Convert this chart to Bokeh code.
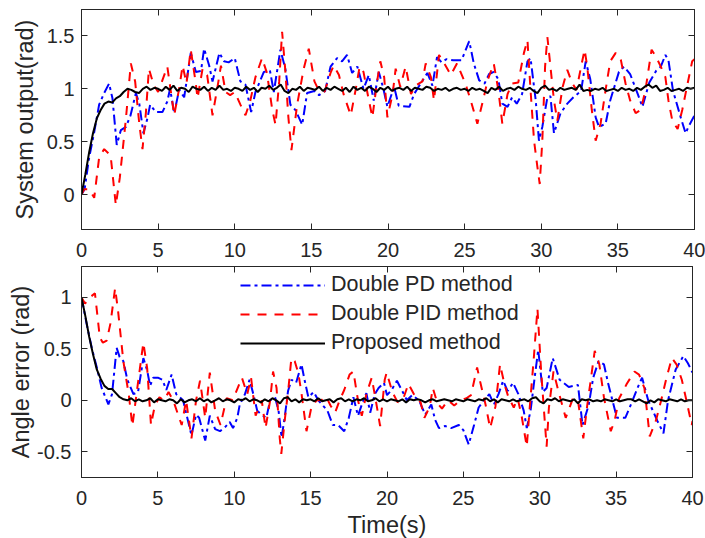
import numpy as np
from bokeh.plotting import figure
from bokeh.layouts import column
from bokeh.models import (LinearAxis, FixedTicker, Range1d, Legend, LegendItem, CustomLabelingPolicy)
from bokeh.embed import file_html
from bokeh.resources import INLINE

# ---------------- data ----------------
x_ticks = [0, 5, 10, 15, 20, 25, 30, 35, 40]
y_ticks_top = [0, 0.5, 1, 1.5]
y_ticks_bot = [-0.5, 0, 0.5, 1]

series_names = ["Double PD method", "Double PID method", "Proposed method"]

# System output - Double PD (blue)
pd_out_t = [0, 0.2, 0.5, 0.83, 1.15, 1.48, 1.8, 2.02, 2.3, 2.57, 2.9, 3.2, 3.55, 3.77, 4.04, 4.3,
            4.48, 4.85, 5.28, 5.6, 5.78, 6.05, 6.37, 6.7, 7.13, 7.46, 7.8, 8.0, 8.33, 8.55, 9.0,
            9.3, 9.6, 10.0, 10.37, 10.7, 11.07, 11.35, 11.9, 12.3, 12.55, 12.98, 13.3, 13.63,
            13.96, 14.4, 14.72, 15.2, 15.5, 15.9, 16.25, 16.68, 17.0, 17.33, 17.66, 18.0, 18.4,
            18.75, 19.07, 19.4, 19.7, 19.96, 20.4, 20.7, 21.4, 21.7, 22.0, 22.57, 22.9, 23.2,
            23.5, 23.8, 24.25, 24.8, 25.3, 25.6, 25.95, 26.3, 26.6, 26.9, 27.2, 27.46, 27.8,
            28.1, 28.4, 28.75, 29.1, 29.3, 29.64, 29.85, 30.07, 30.4, 30.6, 30.83, 31.26, 31.7,
            32.1, 32.6, 32.9, 33.2, 33.55, 33.77, 34.2, 34.5, 35.07, 35.4, 35.8, 36.3, 36.6,
            37.05, 37.5, 37.8, 38.1, 38.3, 38.6, 39.1, 39.42, 39.6, 40.0]
pd_out_y = [0, 0.05, 0.35, 0.59, 0.85, 0.96, 1.05, 0.91, 0.47, 0.61, 0.64, 0.75, 0.96, 0.86, 0.58, 0.72,
            0.85, 0.78, 0.78, 0.88, 1.0, 0.77, 0.99, 0.92, 1.34, 1.16, 1.17, 1.38, 1.22, 1.07, 1.34,
            1.26, 1.25, 1.29, 1.07, 1.04, 0.78, 0.97, 1.16, 1.17, 0.97, 1.37, 1.19, 0.85,
            0.80, 0.66, 0.96, 0.98, 0.94, 0.98, 1.21, 1.29, 1.26, 1.32, 1.15, 1.21, 1.0,
            1.13, 0.89, 1.16, 1.0, 0.83, 1.02, 0.84, 0.83, 0.95, 1.02, 1.15, 1.03, 1.30,
            1.25, 1.28, 1.27, 1.27, 1.45, 1.24, 1.08, 1.05, 1.14, 1.16, 1.09, 0.86, 0.83,
            0.92, 0.86, 0.95, 1.26, 1.29, 0.89, 0.51, 0.64, 0.92, 0.93, 0.58, 0.77, 0.86,
            0.92, 0.98, 1.26, 1.09, 0.73, 0.64, 0.67, 0.89, 1.16, 1.21, 1.14, 0.95, 0.83,
            1.06, 1.17, 1.21, 1.32, 1.27, 0.98, 0.73, 0.58, 0.64, 0.75]

# System output - Double PID (red)
pid_out_t = [0, 0.17, 0.5, 0.83, 1.15, 1.48, 1.9, 2.24, 2.5, 2.9, 3.22, 3.5, 3.77, 3.98, 4.2, 4.4,
             4.7, 5.0, 5.6, 6.05, 6.37, 6.6, 6.85, 7.13, 7.46, 7.57, 7.9, 8.2, 8.55, 8.9, 9.1,
             9.4, 9.7, 10.0, 10.37, 10.7, 11.0, 11.35, 11.78, 12.1, 12.44, 12.66, 12.9, 13.09,
             13.3, 13.5, 13.7, 14.07, 14.5, 14.83, 15.2, 15.4, 15.85, 16.25, 16.46, 16.8, 17.1,
             17.57, 17.9, 18.15, 18.4, 18.7, 18.98, 19.3, 19.5, 19.75, 19.96, 20.3, 20.5, 20.8,
             21.15, 21.5, 21.8, 22.25, 22.46, 22.8, 23.0, 23.33, 23.6, 24.1, 24.5, 25.05, 25.4,
             25.83, 26.2, 26.5, 26.9, 27.2, 27.46, 27.8, 28.1, 28.5, 28.87, 29.1, 29.3, 29.53,
             29.75, 29.9, 30.07, 30.25, 30.4, 30.6, 30.83, 31.05, 31.4, 31.7, 32.0, 32.3, 32.6,
             32.83, 33.0, 33.3, 33.55, 33.87, 34.2, 34.5, 34.86, 35.2, 35.5, 35.8, 36.16, 36.5,
             36.8, 37.2, 37.5, 37.8, 38.1, 38.3, 38.55, 38.9, 39.2, 39.55, 39.85, 40.0]
pid_out_y = [0, 0.05, 0.05, -0.03, 0.35, 0.43, 0.37, -0.1, 0.16, 0.72, 1.24, 1.07, 0.67, 0.43, 0.77, 1.19,
             1.04, 0.97, 1.21, 0.75, 1.0, 1.22, 1.05, 1.37, 1.05, 0.91, 1.19, 1.13, 0.75, 1.04, 1.22,
             0.97, 0.94, 0.97, 0.85, 0.75, 0.88, 1.11, 1.29, 1.15, 0.81, 0.66, 1.07, 1.54,
             1.17, 0.73, 0.42, 0.85, 1.19, 1.38, 1.07, 1.01, 0.97, 1.15, 1.22, 1.13, 0.95,
             0.75, 1.0, 1.21, 1.16, 0.93, 0.73, 1.08, 1.26, 1.11, 0.73, 0.95, 1.19, 1.02,
             1.21, 0.95, 1.03, 1.07, 1.24, 1.11, 0.89, 1.32, 1.26, 1.13, 1.24, 1.05, 0.89,
             0.67, 0.89, 1.08, 1.24, 0.99, 0.67, 0.95, 1.05, 1.06, 1.34, 1.46, 0.99, 0.51,
             0.26, 0.10, 0.51, 1.21, 1.49, 1.21, 0.89, 0.70, 1.02, 1.18, 1.06, 0.99, 1.21,
             1.37, 1.21, 0.80, 0.51, 0.67, 0.99, 1.26, 1.34, 1.27, 1.05, 0.89, 0.77, 0.80,
             0.99, 1.37, 1.30, 1.21, 1.11, 0.89, 0.70, 0.62, 0.80, 1.05, 1.26, 1.28]

# Proposed method (black), sampled every 0.25 s
prop_t = list(np.arange(0, 40.001, 0.25))
prop_out_y = [0.00, 0.19, 0.40, 0.58, 0.72, 0.80, 0.86, 0.88,
              0.87, 0.91, 0.93, 0.97, 1.00, 0.99, 0.97, 0.96,
              1.00, 1.02, 0.99, 1.01, 1.00, 0.98, 1.02, 0.99,
              1.03, 0.98, 1.01, 1.00, 0.97, 1.02, 1.00, 0.99,
              1.02, 0.98, 1.01, 0.99, 1.03, 0.99, 1.00, 0.98,
              1.01, 1.00, 0.98, 1.02, 0.99, 1.01, 0.97, 1.01,
              1.00, 1.03, 0.99, 1.01, 1.04, 0.98, 0.96, 1.00,
              0.99, 1.02, 0.98, 1.01, 1.00, 0.99, 1.02, 0.98,
              1.01, 0.99, 1.02, 1.00, 0.98, 1.01, 0.97, 1.02,
              0.99, 1.01, 0.98, 1.02, 1.00, 0.97, 1.01, 0.99,
              1.02, 0.98, 1.00, 1.01, 0.99, 1.02, 0.98, 1.01,
              1.00, 0.99, 1.02, 1.01, 0.98, 1.00, 0.99, 1.01,
              0.98, 1.00, 1.01, 0.99, 1.00, 0.98, 1.01, 0.99,
              1.00, 0.98, 0.96, 1.01, 0.99, 1.02, 0.98, 1.00,
              1.01, 0.99, 1.02, 1.00, 0.99, 1.01, 0.98, 0.96,
              1.01, 1.03, 0.99, 1.00, 0.98, 1.01, 0.99, 1.00,
              1.01, 0.99, 1.04, 0.98, 0.99, 0.98, 1.00, 0.99,
              1.01, 0.98, 0.99, 1.00, 0.98, 1.01, 0.99, 1.00,
              0.98, 1.01, 0.99, 1.02, 1.04, 1.01, 1.03, 0.98,
              0.99, 1.01, 0.98, 0.99, 1.00, 0.98, 1.01, 1.00,
              1.01]
prop_err_y = [1.00, 0.82, 0.62, 0.45, 0.30, 0.21, 0.14, 0.11,
              0.11, 0.07, 0.03, 0.01, 0.00, 0.02, -0.01, 0.01,
              -0.01, 0.00, 0.02, -0.02, 0.01, 0.00, -0.01, 0.01,
              0.00, -0.03, 0.01, -0.02, 0.00, 0.01, -0.01, 0.02,
              -0.01, 0.01, -0.02, 0.00, 0.02, -0.01, 0.01, 0.00,
              -0.02, 0.01, 0.00, 0.02, -0.01, 0.01, 0.00, -0.02,
              0.01, -0.01, 0.02, 0.00, -0.03, 0.02, 0.03, -0.01,
              0.01, -0.02, 0.01, 0.00, 0.01, -0.01, 0.02, -0.01,
              0.00, 0.01, -0.02, 0.01, 0.02, -0.01, 0.01, -0.01,
              0.01, 0.00, 0.02, -0.01, 0.00, 0.02, -0.01, 0.01,
              -0.01, 0.01, 0.00, -0.01, 0.01, -0.02, 0.01, 0.00,
              0.01, 0.00, -0.02, 0.00, 0.01, -0.01, 0.00, 0.01,
              0.00, -0.01, 0.01, 0.00, -0.01, 0.01, 0.00, -0.01,
              0.01, 0.00, 0.02, -0.01, 0.01, -0.02, 0.01, 0.00,
              -0.01, 0.01, -0.01, 0.00, 0.01, -0.01, 0.02, 0.03,
              -0.01, -0.03, 0.01, 0.00, 0.02, -0.01, 0.01, 0.00,
              -0.01, 0.01, -0.03, 0.01, 0.00, 0.01, -0.01, 0.00,
              -0.01, 0.01, 0.00, -0.01, 0.01, -0.01, 0.00, 0.01,
              0.01, -0.01, 0.01, -0.01, -0.03, 0.00, -0.02, 0.01,
              0.00, -0.01, 0.01, 0.00, -0.01, 0.01, -0.01, 0.00,
              0.00]

# Angle error - Double PD (blue)
pd_err_t = [0, 0.34, 0.67, 1.0, 1.32, 1.76, 2.0, 2.3, 2.5, 2.74, 3.0, 3.4, 3.7, 4.05, 4.3, 4.49,
            4.7, 5.0, 5.3, 5.55, 5.9, 6.2, 6.65, 7.2, 7.5, 7.7, 8.1, 8.4, 8.75, 9.07, 9.4, 9.7,
            9.92, 10.2, 10.36, 10.7, 11.0, 11.25, 11.5, 11.78, 12.1, 12.35, 12.67, 12.9, 13.1,
            13.3, 13.52, 13.75, 14.05, 14.4, 14.6, 14.85, 15.2, 15.5, 16.1, 16.45, 16.8, 17.2,
            17.5, 17.8, 18.1, 18.45, 18.65, 18.9, 19.2, 19.45, 19.8, 20.0, 20.3, 20.65, 21.0,
            21.3, 21.65, 22.1, 22.5, 22.9, 23.15, 23.4, 23.8, 24.2, 24.7, 25.0, 25.35, 25.7,
            26.0, 26.35, 26.7, 27.0, 27.3, 27.6, 27.9, 28.25, 28.6, 28.95, 29.15, 29.4, 29.7,
            29.9, 30.2, 30.45, 30.85, 31.3, 31.9, 32.5, 32.8, 33.2, 33.5, 33.85, 34.2, 34.5,
            35.05, 35.6, 36.0, 36.4, 36.7, 37.1, 37.7, 38.1, 38.4, 38.9, 39.4, 39.7, 40.0]
pd_err_y = [1.0, 0.74, 0.51, 0.32, 0.12, -0.04, 0.06, 0.51, 0.42, 0.38, 0.2, 0.06, 0.08, 0.41, 0.29, 0.14,
            0.22, 0.22, 0.2, 0.1, 0.25, 0.06, 0.0, -0.34, -0.14, -0.17, -0.39, -0.15, -0.28, -0.3, -0.26, -0.21,
            -0.27, -0.17, -0.04, 0.06, 0.2, 0.06, -0.1, -0.14, -0.17, 0.0, 0.03, -0.1, -0.36,
            -0.17, 0.09, 0.2, 0.17, 0.35, 0.2, 0.03, 0.08, 0.0, -0.1, -0.24, -0.24, -0.3,
            -0.17, 0.03, -0.15, 0.0, 0.07, -0.12, 0.06, 0.12, 0.17, 0.05, 0.1, 0.19, 0.09,
            0.0, 0.05, 0.0, -0.14, -0.04, -0.19, -0.27, -0.25, -0.27, -0.24, -0.29, -0.43, -0.24,
            -0.07, 0.0, 0.06, -0.04, 0.06, 0.19, 0.09, 0.17, 0.06, -0.1, -0.27, -0.1, 0.26,
            0.49, 0.08, 0.12, 0.41, 0.2, 0.13, 0.15, -0.24, -0.05, 0.22, 0.38, 0.35, 0.15,
            -0.17, -0.17, -0.03, 0.12, 0.22, 0.0, -0.2, -0.32, 0.0, 0.3, 0.43, 0.36, 0.27]

# Angle error - Double PID (red)
pid_err_t = [0, 0.23, 0.55, 0.88, 1.2, 1.4, 1.65, 1.9, 2.2, 2.4, 2.74, 3.1, 3.33, 3.6, 3.95, 4.05,
             4.3, 4.55, 4.8, 5.1, 5.4, 5.7, 6.0, 6.56, 6.85, 7.2, 7.5, 7.76, 8.1, 8.4, 8.75, 9.1,
             9.5, 9.9, 10.5, 10.85, 11.1, 11.4, 11.8, 12.05, 12.35, 12.54, 12.77, 12.98, 13.08,
             13.3, 13.55, 13.74, 13.96, 14.2, 14.4, 14.73, 15.06, 15.4, 15.7, 16.0, 16.3, 16.6,
             16.9, 17.2, 17.55, 17.8, 18.1, 18.35, 18.65, 19.0, 19.3, 19.55, 19.85, 19.98, 20.35,
             20.7, 21.1, 21.4, 21.8, 22.2, 22.45, 22.8, 23.0, 23.3, 23.6, 24.0, 24.4, 24.8, 25.2,
             25.5, 25.9, 26.1, 26.45, 26.75, 27.1, 27.4, 27.7, 27.95, 28.3, 28.55, 28.8, 29.15,
             29.35, 29.6, 29.85, 30.1, 30.45, 30.6, 30.9, 31.2, 31.7, 32.2, 32.5, 32.85, 33.1,
             33.6, 33.9, 34.2, 34.65, 34.9, 35.2, 35.7, 36.2, 36.5, 36.85, 37.2, 37.6, 37.95,
             38.3, 38.65, 38.95, 39.3, 39.6, 39.95, 40.0]
pid_err_y = [1.0, 0.94, 1.0, 1.04, 0.61, 0.56, 0.58, 0.75, 1.09, 0.86, 0.38, 0.05, -0.25, 0.06, 0.45, 0.56,
             0.31, -0.24, -0.05, 0.03, 0.0, 0.08, 0.0, -0.24, 0.0, -0.37, 0.0, 0.19, -0.17, 0.27, -0.1, -0.24,
             0.02, 0.0, 0.22, 0.06, 0.22, -0.15, 0.0, -0.27, 0.0, 0.28, 0.12, -0.37, -0.52,
             -0.2, 0.12, 0.41, 0.38, 0.26, 0.07, -0.3, -0.06, 0.0, 0.0, 0.04, -0.05, -0.12,
             0.0, 0.1, 0.25, 0.28, 0.0, -0.15, 0.06, 0.22, -0.03, -0.25, 0.2, 0.27, 0.08,
             -0.02, 0.03, 0.16, 0.05, -0.02, -0.17, -0.06, 0.12, -0.03, -0.08, 0.0, -0.05, 0.0, 0.02,
             0.05, 0.32, 0.18, -0.04, -0.27, -0.06, 0.35, 0.15, 0.03, -0.07, 0.02, -0.14, -0.45,
             -0.06, 0.39, 0.89, 0.26, -0.45, -0.07, 0.28, 0.1, -0.17, 0.03, 0.0, -0.37, -0.06,
             0.48, 0.35, 0.03, -0.3, -0.2, 0.02, 0.16, 0.28, 0.25, 0.12, -0.35, -0.2, 0.0,
             0.22, 0.41, 0.35, 0.2, 0.0, -0.24, -0.2]

# ---------------- styling ----------------
FONT = "Liberation Sans"
AX_COL = "#262626"
BLUE, RED, BLACK = "#0000ff", "#ff0000", "#000000"
LW = 2

HIDE_LABELS = """
try { for (const i of Array.from(indices)) indices.unset(i) } catch (e) {}
return indices
"""


def box_axis(ticks):
    return LinearAxis(ticker=FixedTicker(ticks=ticks), major_label_text_font_size="0px",
                      major_label_policy=CustomLabelingPolicy(code=HIDE_LABELS),
                      major_tick_in=6, major_tick_out=0, minor_tick_line_color=None,
                      axis_line_color=AX_COL, major_tick_line_color=AX_COL, major_label_standoff=0)


def style_axes(p, yticks, xlabel=None, ylabel=None, label_standoff=10, ylab_standoff=7):
    p.xaxis.ticker = FixedTicker(ticks=x_ticks)
    p.yaxis.ticker = FixedTicker(ticks=yticks)
    p.xaxis.major_label_overrides = {v: f"{v:g}" for v in x_ticks}
    p.yaxis.major_label_overrides = {v: f"{v:g}" for v in yticks}
    for ax in p.xaxis + p.yaxis:
        ax.major_tick_in = 6
        ax.major_tick_out = 0
        ax.minor_tick_line_color = None
        ax.axis_line_color = AX_COL
        ax.major_tick_line_color = AX_COL
        ax.major_label_text_font = FONT
        ax.major_label_text_font_size = "20px"
        ax.major_label_text_color = AX_COL
        ax.axis_label_text_font = FONT
        ax.axis_label_text_font_size = "23.5px"
        ax.axis_label_text_font_style = "normal"
        ax.axis_label_text_color = AX_COL
    p.yaxis.major_label_standoff = ylab_standoff
    p.xaxis.major_label_standoff = 13
    p.yaxis.axis_label_standoff = label_standoff
    if ylabel:
        p.yaxis.axis_label = ylabel
    if xlabel:
        p.xaxis.axis_label = xlabel
        p.xaxis.axis_label_standoff = 4
    p.add_layout(box_axis(x_ticks), "above")
    p.add_layout(box_axis(yticks), "right")
    p.xgrid.grid_line_color = None
    p.ygrid.grid_line_color = None
    p.outline_line_color = AX_COL


p1 = figure(frame_width=613, frame_height=220, output_backend="svg", toolbar_location=None,
            x_range=Range1d(0, 40), y_range=Range1d(-0.33, 1.75),
            min_border_left=79, min_border_right=13, min_border_top=9, min_border_bottom=35)
p1.line(pd_out_t, pd_out_y, line_color=BLUE, line_width=LW, line_dash="10 4 3 4")
p1.line(pid_out_t, pid_out_y, line_color=RED, line_width=LW, line_dash="9 8")
p1.line(prop_t, prop_out_y, line_color=BLACK, line_width=LW)
style_axes(p1, y_ticks_top, ylabel="System output(rad)", label_standoff=6, ylab_standoff=7)

p2 = figure(frame_width=611, frame_height=211, output_backend="svg", toolbar_location=None,
            x_range=Range1d(0, 40), y_range=Range1d(-0.75, 1.3),
            min_border_left=81, min_border_right=13, min_border_top=2, min_border_bottom=61)
r1 = p2.line(pd_err_t, pd_err_y, line_color=BLUE, line_width=LW, line_dash="10 4 3 4")
r2 = p2.line(pid_err_t, pid_err_y, line_color=RED, line_width=LW, line_dash="9 8")
r3 = p2.line(prop_t, prop_err_y, line_color=BLACK, line_width=LW)
style_axes(p2, y_ticks_bot, xlabel="Time(s)", ylabel="Angle error (rad)", label_standoff=0, ylab_standoff=10)

legend = Legend(items=[LegendItem(label=series_names[0], renderers=[r1]),
                       LegendItem(label=series_names[1], renderers=[r2]),
                       LegendItem(label=series_names[2], renderers=[r3])],
                location=(159, 122), orientation="vertical",
                glyph_width=85, glyph_height=24, label_height=24, spacing=4,
                label_standoff=6, padding=0, margin=0,
                label_text_font=FONT, label_text_font_size="21.5px", label_text_color=AX_COL,
                border_line_alpha=0, background_fill_alpha=0)
p2.add_layout(legend, "center")

layout = column(p1, p2, spacing=0)
open("out.html", "w").write(file_html(layout, INLINE))
